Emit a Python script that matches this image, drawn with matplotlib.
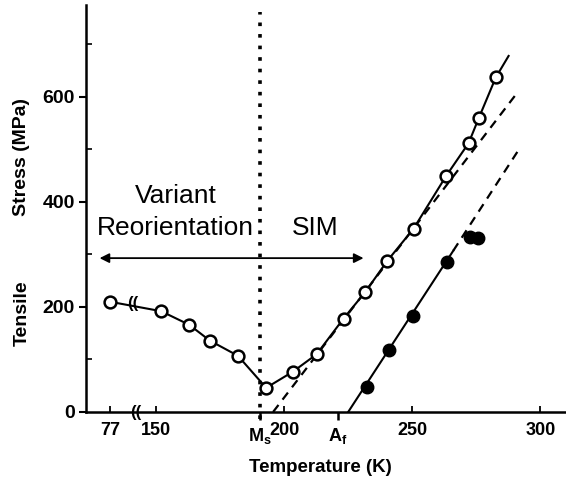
import numpy as np
import matplotlib
matplotlib.use("Agg")
from matplotlib import pyplot as plt

plt.rcParams['font.family'] = ['Liberation Sans', 'DejaVu Sans']
plt.rcParams['mathtext.fontset'] = 'custom'
plt.rcParams['mathtext.rm'] = 'Liberation Sans:bold'
plt.rcParams['mathtext.it'] = 'Liberation Sans:bold'
plt.rcParams['mathtext.bf'] = 'Liberation Sans:bold'

# open circles: stress-induced martensite / reorientation
open_T = [77, 152, 163, 171, 182, 193, 203.5, 212.7, 223.2, 231.6, 240.3, 250.5, 263.3, 272, 276, 282.6]
open_S = [210, 192, 166, 136, 107, 46, 77, 110, 178, 228, 288, 349, 450, 512, 560, 637]
open_end = (287.6, 678)

# filled circles
fill_T = [232.3, 240.8, 250.3, 263.5, 272.5, 275.5]
fill_S = [48, 119, 182, 286, 333, 332]
fill_line_T = [225, 266]
fill_line_S = [0, 307]
fill_dash_T = [266, 292.3]
fill_dash_S = [307, 505]

# dashed linear fit of SIM branch
sim_dash_T = [195.7, 291.3]
sim_dash_S = [0, 610]

Ms = 190.6
Af = 221
T_77_pos = 132   # 77 K drawn left of the axis break
T_break = 142

def xpos(T):
    return T_77_pos if T < 100 else T

fig = plt.figure(figsize=(5.66, 4.84), dpi=100)
ax = fig.add_axes([86/566, 1-412/484, (566-86)/566, (412-5)/484])
ax.set_xlim(122.7, 310)
ax.set_ylim(0, 775)

for s in ['top', 'right']:
    ax.spines[s].set_visible(False)
for s in ['left', 'bottom']:
    ax.spines[s].set_linewidth(1.8)

ox = [xpos(t) for t in open_T]
ax.plot(ox + [open_end[0]], open_S + [open_end[1]], '-', color='black', lw=1.5, zorder=2)
ax.plot(ox, open_S, 'o', ms=8.5, mfc='white', mec='black', mew=1.8, zorder=3)

ax.plot(fill_line_T, fill_line_S, '-', color='black', lw=1.5, zorder=2)
ax.plot(fill_dash_T, fill_dash_S, color='black', lw=1.6, ls=(0, (4, 3)), zorder=2)
ax.plot(sim_dash_T, sim_dash_S, color='black', lw=1.6, ls=(0, (4, 3)), zorder=2)
ax.plot(fill_T, fill_S, 'o', ms=9, color='black', zorder=3)

# Ms dotted line
ax.plot([Ms, Ms], [-14, 762], color='black', lw=2.6, ls=(0, (1, 2.2)),
        dash_capstyle='butt', clip_on=False, zorder=1)

# double arrow
ax.annotate('', xy=(128, 293), xytext=(231, 293),
            arrowprops=dict(arrowstyle='<|-|>', color='black', lw=1.3,
                            mutation_scale=14, shrinkA=0, shrinkB=0))
ax.text(157.7, 411, 'Variant', fontsize=19, ha='center', va='center')
ax.text(157.7, 350, 'Reorientation', fontsize=19, ha='center', va='center')
ax.text(212, 350, 'SIM', fontsize=19, ha='center', va='center')

# break marks
ax.text(T_break, 0, '((', fontsize=12, fontweight='bold', ha='center', va='center', clip_on=False)
ax.text(141, 206, '((', fontsize=12, fontweight='bold', ha='center', va='center')

# ticks
ax.set_yticks([0, 200, 400, 600])
ax.set_yticks([100, 300, 500, 700], minor=True)
ax.tick_params(axis='y', which='major', direction='out', length=5, width=1.5,
               labelsize=14, pad=3)
ax.tick_params(axis='y', which='minor', direction='in', length=4, width=1.2)
for lab in ax.get_yticklabels():
    lab.set_fontweight('bold')

ax.set_xticks([T_77_pos, 150, 200, 250, 300], ['77', '150', '200', '250', '300'])
ax.set_xticks([Ms, Af], [r'M$_\mathrm{s}$', r'A$_\mathrm{f}$'], minor=True)
ax.tick_params(axis='x', which='major', direction='in', length=4, width=1.3,
               labelsize=13, pad=7)
ax.tick_params(axis='x', which='minor', direction='out', length=6, width=1.8,
               labelsize=13, pad=4)
for lab in ax.get_xticklabels() + ax.get_xticklabels(minor=True):
    lab.set_fontweight('bold')

fig.text(320/566, 1-467/484, 'Temperature (K)', fontsize=13.5, fontweight='bold',
         ha='center', va='center')
fig.text(22/566, 1-157/484, 'Stress (MPa)', fontsize=14, fontweight='bold',
         ha='center', va='center', rotation=90)
fig.text(22/566, 1-313/484, 'Tensile', fontsize=14, fontweight='bold',
         ha='center', va='center', rotation=90)

fig.savefig('out.png', dpi=100)
